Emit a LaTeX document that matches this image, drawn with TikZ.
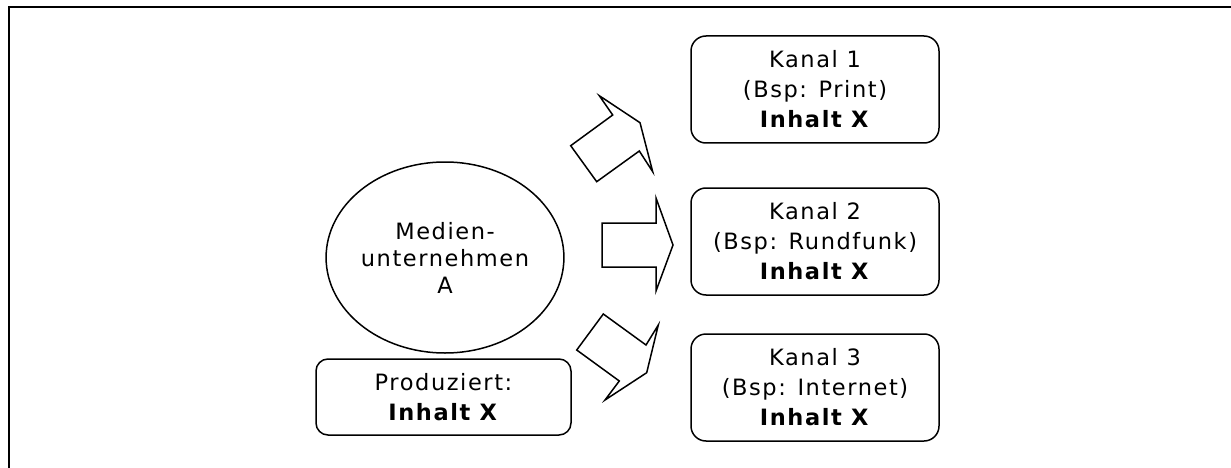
\documentclass[tikz,border=0pt]{standalone}
\usepackage{fontspec}
\setmainfont{DejaVu Sans}[LetterSpace=7]
\usetikzlibrary{shapes.geometric}
\begin{document}
\begin{tikzpicture}[x=1pt,y=-1pt,
  box/.style={draw,line width=1.5pt,rounded corners=15pt,inner sep=0pt,align=center,
    font=\fontsize{22.5}{30}\selectfont},
  kanal/.style={box,minimum width=248pt,minimum height=107pt},
  txt/.style={font=\fontsize{22.5}{30}\selectfont,align=center,inner sep=0pt},
  blockarrow/.style={draw,line width=1.5pt,line join=miter}]
\useasboundingbox (0,0) rectangle (1231,468);
\draw[line width=2.3pt] (9,468) -- (9,7) -- (1231,7);
\node[draw,ellipse,line width=1.5pt,minimum width=210pt,minimum height=191pt,inner sep=0pt,
  txt,font=\fontsize{22.5}{27}\selectfont] (firm) at (445,257.5) {Medien-\\unternehmen\\A};
\node[box,rounded corners=12pt,minimum width=255pt,minimum height=76pt] (prod) at (443.5,397)
  {Produziert:\\\textbf{Inhalt X}};
\node[kanal] (k1) at (815,89.5) {Kanal 1\\(Bsp: Print)\\\textbf{Inhalt X}};
\node[kanal] (k2) at (815,241.5) {Kanal 2\\(Bsp: Rundfunk)\\\textbf{Inhalt X}};
\node[kanal] (k3) at (815,387.5) {Kanal 3\\(Bsp: Internet)\\\textbf{Inhalt X}};
% block arrows
\draw[blockarrow] (570.7,145.7) -- (612.7,115) -- (599.3,95.7) -- (640,122.7)
  -- (652.7,171.7) -- (639.3,151) -- (596.7,181.7) -- cycle;
\draw[blockarrow] (602,223) -- (656,223) -- (656,198) -- (673,245) -- (656,291)
  -- (656,267) -- (602,267) -- cycle;
\draw[blockarrow] (603.3,314) -- (646,345) -- (658.3,325) -- (646.7,372.7)
  -- (605,400) -- (619.3,381) -- (576.7,350) -- cycle;
\end{tikzpicture}
\end{document}
